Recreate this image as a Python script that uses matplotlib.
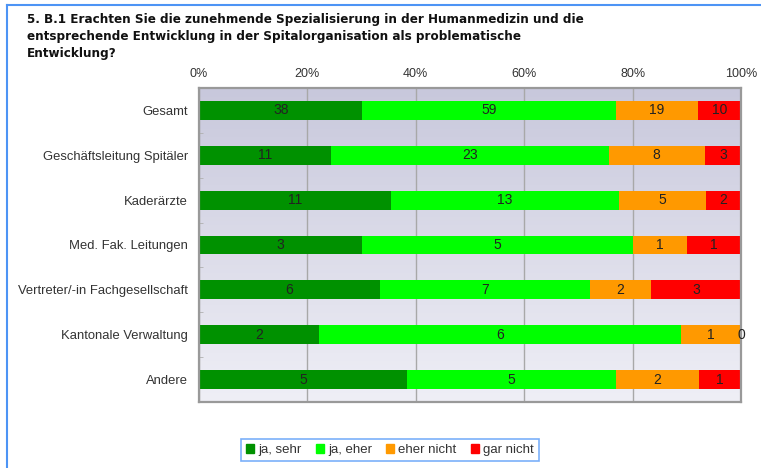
import numpy as np
import matplotlib.pyplot as plt
from matplotlib.lines import Line2D
from matplotlib.patches import Rectangle

title = ("5. B.1 Erachten Sie die zunehmende Spezialisierung in der Humanmedizin und die\n"
         "entsprechende Entwicklung in der Spitalorganisation als problematische\n"
         "Entwicklung?")

groups = ["Gesamt", "Geschäftsleitung Spitäler", "Kaderärzte", "Med. Fak. Leitungen",
          "Vertreter/-in Fachgesellschaft", "Kantonale Verwaltung", "Andere"]
answers = ["ja, sehr", "ja, eher", "eher nicht", "gar nicht"]
colors = ["#009100", "#00ff00", "#ff9900", "#ff0000"]

ja_sehr = [38, 11, 11, 3, 6, 2, 5]
ja_eher = [59, 23, 13, 5, 7, 6, 5]
eher_nicht = [19, 8, 5, 1, 2, 1, 2]
gar_nicht = [10, 3, 2, 1, 3, 0, 1]

counts = np.array([ja_sehr, ja_eher, eher_nicht, gar_nicht], dtype=float)
pct = counts / counts.sum(axis=0) * 100

fig = plt.figure(figsize=(7.61, 4.68), dpi=100)
W, H = 761, 468
ax = fig.add_axes([199 / W, 1 - 402 / H, (741 - 199) / W, (402 - 88) / H])

# gradient background of the plot area
grad = np.linspace(0, 1, 256).reshape(-1, 1)
top = np.array([200, 200, 220]) / 255
bot = np.array([239, 239, 246]) / 255
img = top + (bot - top) * grad[:, :, None]
ax.imshow(img, extent=[0, 100, 6.5, -0.5], aspect="auto", zorder=0)

y = np.arange(len(groups))
left = np.zeros(len(groups))
for k in range(len(answers)):
    ax.barh(y, pct[k], left=left, height=0.42, color=colors[k], label=answers[k], zorder=2)
    for i in range(len(groups)):
        ax.text(left[i] + pct[k][i] / 2, y[i], f"{int(counts[k][i])}", ha="center", va="center",
                fontsize=10, color="#222222", family="Liberation Sans", zorder=3)
    left += pct[k]

ax.set_xlim(0, 100)
ax.set_ylim(6.5, -0.5)
ax.set_xticks([0, 20, 40, 60, 80, 100])
ax.set_xticklabels(["0%", "20%", "40%", "60%", "80%", "100%"])
ax.xaxis.tick_top()
ax.tick_params(axis="x", length=0, pad=6, labelsize=9, labelcolor="#333333")
for lbl in ax.get_xticklabels():
    lbl.set_family("Liberation Sans")
ax.set_yticks(y)
ax.set_yticklabels(groups)
ax.tick_params(axis="y", length=0, pad=8, labelsize=9.4, labelcolor="#333333")
for lbl in ax.get_yticklabels():
    lbl.set_family("Liberation Sans")
ax.set_yticks(np.arange(0.5, 6.5, 1), minor=True)
ax.tick_params(axis="y", which="minor", length=3, direction="in", color="#b0b0b0")
ax.grid(axis="x", color="#a8a8a8", linewidth=1, zorder=1)
ax.set_axisbelow(True)
for s in ax.spines.values():
    s.set_color("#999999")
    s.set_linewidth(1.6)

fig.text(27 / W, 1 - 13 / H, title, ha="left", va="top", fontsize=8.65,
         fontweight="bold", family="DejaVu Sans", color="#111111", linespacing=1.38)

# blue frame of the original export (left and top edges only visible)
fig.add_artist(Line2D([7 / W, 7 / W], [0, 1 - 5 / H], color="#4d94f5", lw=1.5))
fig.add_artist(Line2D([7 / W, 1], [1 - 5 / H, 1 - 5 / H], color="#4d94f5", lw=1.5))

handles = [Rectangle((0, 0), 1, 1, color=c) for c in colors]
leg = fig.legend(handles, answers, loc="center", bbox_to_anchor=(390 / W, 1 - 450 / H),
                 ncol=4, frameon=True, fancybox=False,
                 handlelength=0.6, handleheight=0.6, handletextpad=0.3, columnspacing=1.1,
                 borderpad=0.4, prop={"family": "Liberation Sans", "size": 9.5})
leg.get_frame().set_edgecolor("#5a9cf8")
leg.get_frame().set_linewidth(1.2)
for t in leg.get_texts():
    t.set_color("#333333")

fig.savefig("out.png", dpi=100)
